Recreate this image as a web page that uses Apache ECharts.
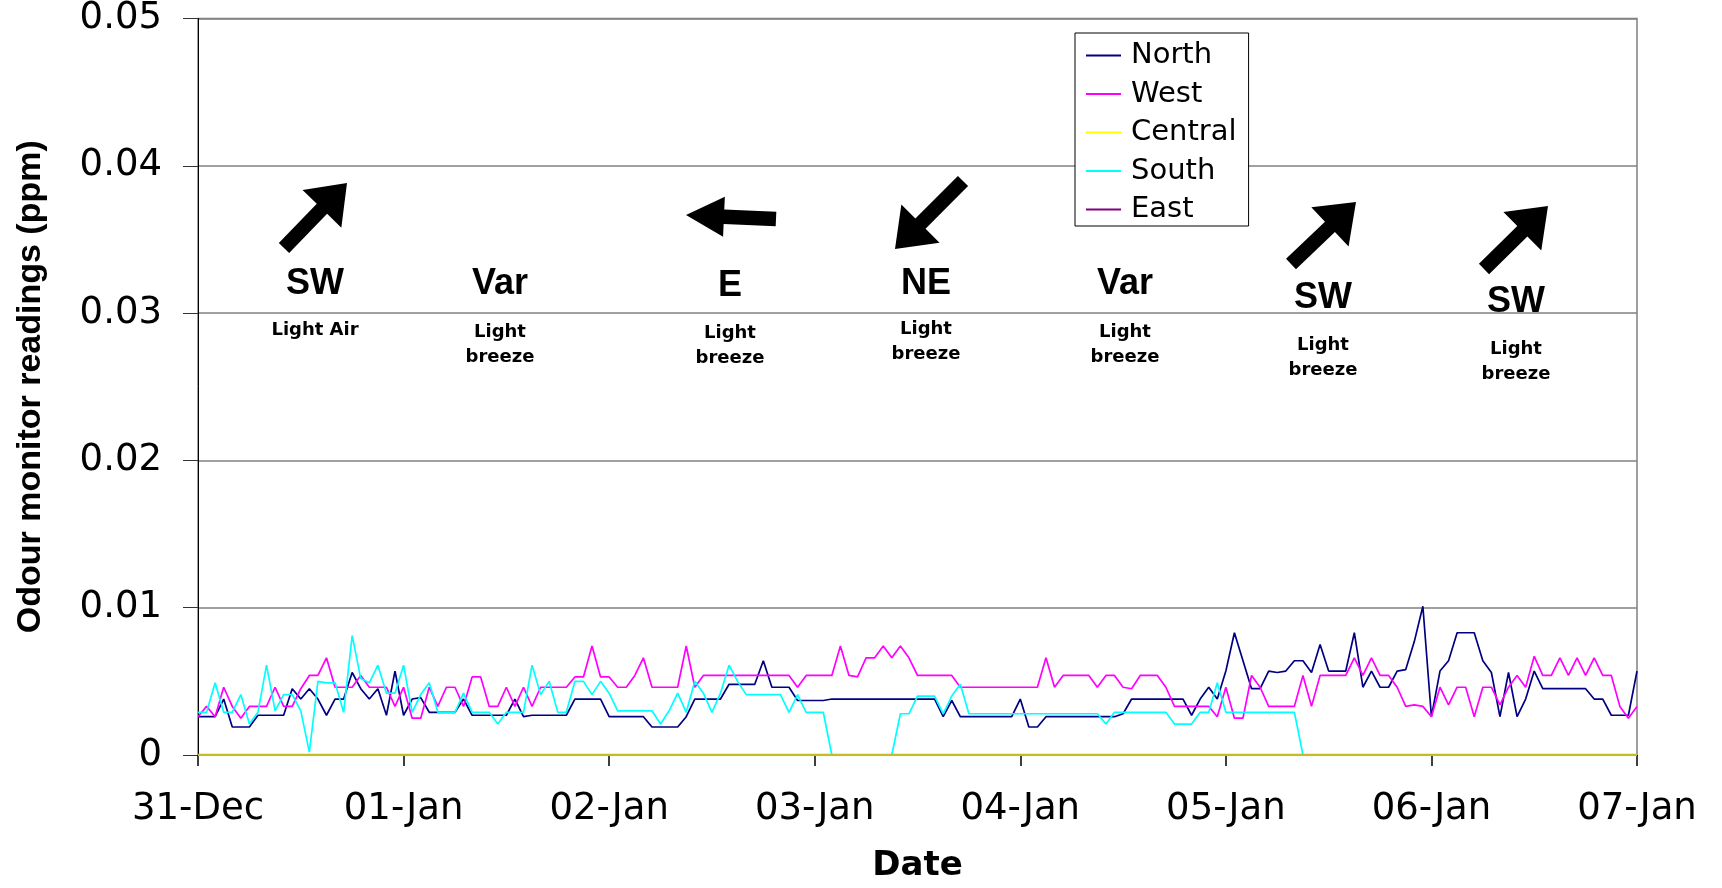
<!DOCTYPE html>
<html>
<head>
<meta charset="utf-8">
<script src="https://cdn.jsdelivr.net/npm/echarts@6/dist/echarts.min.js"></script>
<style>html,body{margin:0;padding:0;background:#fff}#c{width:1722px;height:888px}</style>
</head>
<body>
<div id="c"></div>
<script>
// ---- data (hourly readings, ppm) ----
const tickLabels = ['31-Dec','01-Jan','02-Jan','03-Jan','04-Jan','05-Jan','06-Jan','07-Jan'];
const yTickLabels = ['0','0.01','0.02','0.03','0.04','0.05'];
const seriesNames = ['North','West','Central','South','East'];
const north = [
0.0026,0.0026,0.0026,0.0038,0.0019,0.0019,0.0019,0.0027,0.0027,0.0027,0.0027,0.0045,
0.0038,0.0045,0.0038,0.0027,0.0038,0.0038,0.0056,0.0045,0.0038,0.0045,0.0027,0.0057,
0.0027,0.0038,0.0039,0.0029,0.0029,0.0029,0.0029,0.0038,0.0027,0.0027,0.0027,0.0027,
0.0027,0.0038,0.0026,0.0027,0.0027,0.0027,0.0027,0.0027,0.0038,0.0038,0.0038,0.0038,
0.0026,0.0026,0.0026,0.0026,0.0026,0.0019,0.0019,0.0019,0.0019,0.0026,0.0038,0.0038,
0.0038,0.0038,0.0048,0.0048,0.0048,0.0048,0.0064,0.0046,0.0046,0.0046,0.0037,0.0037,
0.0037,0.0037,0.0038,0.0038,0.0038,0.0038,0.0038,0.0038,0.0038,0.0038,0.0038,0.0038,
0.0038,0.0038,0.0038,0.0026,0.0037,0.0026,0.0026,0.0026,0.0026,0.0026,0.0026,0.0026,
0.0038,0.0019,0.0019,0.0026,0.0026,0.0026,0.0026,0.0026,0.0026,0.0026,0.0026,0.0026,
0.0028,0.0038,0.0038,0.0038,0.0038,0.0038,0.0038,0.0038,0.0027,0.0038,0.0046,0.0038,
0.0057,0.0083,0.0064,0.0045,0.0045,0.0057,0.0056,0.0057,0.0064,0.0064,0.0056,0.0075,
0.0057,0.0057,0.0057,0.0083,0.0046,0.0057,0.0046,0.0046,0.0057,0.0058,0.0077,0.0101,
0.0026,0.0057,0.0064,0.0083,0.0083,0.0083,0.0064,0.0056,0.0026,0.0056,0.0026,0.0038,
0.0057,0.0045,0.0045,0.0045,0.0045,0.0045,0.0045,0.0038,0.0038,0.0027,0.0027,0.0027,
0.0057];
const west = [
0.0026,0.0033,0.0026,0.0046,0.0033,0.0025,0.0033,0.0033,0.0033,0.0046,0.0033,0.0033,
0.0045,0.0054,0.0054,0.0066,0.0046,0.0046,0.0046,0.0054,0.0046,0.0046,0.0046,0.0033,
0.0046,0.0025,0.0025,0.0046,0.0033,0.0046,0.0046,0.0033,0.0053,0.0053,0.0033,0.0033,
0.0046,0.0033,0.0046,0.0033,0.0046,0.0046,0.0046,0.0046,0.0053,0.0053,0.0074,0.0053,
0.0053,0.0046,0.0046,0.0054,0.0066,0.0046,0.0046,0.0046,0.0046,0.0074,0.0046,0.0054,
0.0054,0.0054,0.0054,0.0054,0.0054,0.0054,0.0054,0.0054,0.0054,0.0054,0.0046,0.0054,
0.0054,0.0054,0.0054,0.0074,0.0054,0.0053,0.0066,0.0066,0.0074,0.0066,0.0074,0.0066,
0.0054,0.0054,0.0054,0.0054,0.0054,0.0046,0.0046,0.0046,0.0046,0.0046,0.0046,0.0046,
0.0046,0.0046,0.0046,0.0066,0.0046,0.0054,0.0054,0.0054,0.0054,0.0046,0.0054,0.0054,
0.0046,0.0045,0.0054,0.0054,0.0054,0.0046,0.0033,0.0033,0.0033,0.0033,0.0033,0.0026,
0.0046,0.0025,0.0025,0.0054,0.0046,0.0033,0.0033,0.0033,0.0033,0.0054,0.0033,0.0054,
0.0054,0.0054,0.0054,0.0066,0.0054,0.0066,0.0054,0.0054,0.0046,0.0033,0.0034,0.0033,
0.0026,0.0046,0.0034,0.0046,0.0046,0.0026,0.0046,0.0046,0.0034,0.0046,0.0054,0.0046,
0.0067,0.0054,0.0054,0.0066,0.0054,0.0066,0.0054,0.0066,0.0054,0.0054,0.0033,0.0025,
0.0033];
const central = [
0,0,0,0,0,0,0,0,0,0,0,0, 0,0,0,0,0,0,0,0,0,0,0,0,
0,0,0,0,0,0,0,0,0,0,0,0, 0,0,0,0,0,0,0,0,0,0,0,0,
0,0,0,0,0,0,0,0,0,0,0,0, 0,0,0,0,0,0,0,0,0,0,0,0,
0,0,0,0,0,0,0,0,0,0,0,0, 0,0,0,0,0,0,0,0,0,0,0,0,
0,0,0,0,0,0,0,0,0,0,0,0, 0,0,0,0,0,0,0,0,0,0,0,0,
0,0,0,0,0,0,0,0,0,0,0,0, 0,0,0,0,0,0,0,0,0,0,0,0,
0,0,0,0,0,0,0,0,0,0,0,0, 0,0,0,0,0,0,0,0,0,0,0,0,
0];
const south = [
0.0029,0.0029,0.0049,0.0029,0.0029,0.0041,0.0021,0.0029,0.0061,0.0030,0.0041,0.0041,
0.0030,0.0002,0.0050,0.0049,0.0049,0.0029,0.0081,0.0052,0.0049,0.0061,0.0042,0.0042,
0.0061,0.0029,0.0041,0.0049,0.0029,0.0029,0.0029,0.0042,0.0029,0.0029,0.0029,0.0021,
0.0029,0.0029,0.0029,0.0061,0.0041,0.0050,0.0029,0.0029,0.0050,0.0050,0.0041,0.0050,
0.0042,0.0030,0.0030,0.0030,0.0030,0.0030,0.0021,0.0030,0.0042,0.0029,0.0050,0.0042,
0.0029,0.0042,0.0061,0.0050,0.0041,0.0041,0.0041,0.0041,0.0041,0.0029,0.0041,0.0029,
0.0029,0.0029,0,0,0,0,0,0,0,0,0.0028,0.0028,
0.0040,0.0040,0.0040,0.0028,0.0040,0.0048,0.0028,0.0028,0.0028,0.0028,0.0028,0.0028,
0.0028,0.0028,0.0028,0.0028,0.0028,0.0028,0.0028,0.0028,0.0028,0.0028,0.0021,0.0029,
0.0029,0.0029,0.0029,0.0029,0.0029,0.0029,0.0021,0.0021,0.0021,0.0029,0.0029,0.0049,
0.0029,0.0029,0.0029,0.0029,0.0029,0.0029,0.0029,0.0029,0.0029,0,0,0,
0,0,0,0,0,0,0,0,0,0,0,0, 0,0,0,0,0,0,0,0,0,0,0,0,
0,0,0,0,0,0,0,0,0,0,0,0,
0];
const east = [];
const windDir = ['SW','Var','E','NE','Var','SW','SW'];
const windSpeed = ['Light Air','Light\nbreeze','Light\nbreeze','Light\nbreeze','Light\nbreeze','Light\nbreeze','Light\nbreeze'];

// ---- layout / style ----
const colors = ['#000080','#FF00FF','#FFFF00','#00FFFF','#800080'];
const lineColors = ['#000080','#FF00FF','#C4BC24','#00FFFF','#800080'];
const hoursPerSample = 1;
const labelX = [315, 500, 730, 926, 1125, 1323, 1516];
const dirY = [284, 284.5, 286.5, 284.5, 284.5, 298.5, 302.5];
const speedY = [330, 332.5, 333.5, 329.5, 332.5, 345.5, 349.5];
// arrows: [tailX, tailY, tipX, tipY, headHalfWidth, headLength]
const arrows = [
  [284, 248, 347, 183, 27, 36],
  [776, 219, 686, 215, 20, 38],
  [963, 181, 895, 249, 27, 36],
  [1291, 264, 1356, 202, 27, 36],
  [1484, 269, 1548, 206, 27, 36]
];

const allData = [north, west, central, south, east];
const toPairs = arr => arr.map((v, i) => [i * hoursPerSample, v]);

function arrowPoints(a) {
  const [tx, ty, px, py, H, HL] = a;
  const L = Math.hypot(px - tx, py - ty);
  const ux = (px - tx) / L, uy = (py - ty) / L;
  const nx = -uy, ny = ux, w = 7.2;
  const bx = px - ux * HL, by = py - uy * HL;
  return [
    [tx + nx * w, ty + ny * w], [bx + nx * w, by + ny * w], [bx + nx * H, by + ny * H],
    [px, py],
    [bx - nx * H, by - ny * H], [bx - nx * w, by - ny * w], [tx - nx * w, ty - ny * w]
  ];
}

const graphics = [];
arrows.forEach(a => graphics.push({type:'polygon', z:10, shape:{points: arrowPoints(a)}, style:{fill:'#000'}}));
windDir.forEach((d, i) => {
  graphics.push({type:'text', z:10, style:{text:d, x:labelX[i], y:dirY[i], fill:'#000',
    font:'bold 36px "Liberation Sans", Arial, sans-serif', align:'center', verticalAlign:'middle'}});
  graphics.push({type:'text', z:10, style:{text:windSpeed[i], x:labelX[i], y:speedY[i] - 12.5, fill:'#000',
    font:'bold 18px "DejaVu Sans", sans-serif', lineHeight:25, align:'center', verticalAlign:'top'}});
});

const chart = echarts.init(document.getElementById('c'));
chart.setOption({
  animation: false,
  backgroundColor: '#fff',
  grid: {left:198, right:85, top:18, bottom:126, show:true, borderColor:'#808080', borderWidth:1.5, backgroundColor:'transparent'},
  legend: {
    orient:'vertical', left:1075, top:33, padding:[8,12,2,11], itemGap:9.5,
    itemWidth:35, itemHeight:2, icon:'rect',
    backgroundColor:'#fff', borderColor:'#000', borderWidth:1, borderRadius:0,
    textStyle:{fontFamily:'"DejaVu Sans", sans-serif', fontSize:29, color:'#000', padding:[0,0,0,5]},
    data: seriesNames
  },
  xAxis: {
    type:'value', min:0, max:168, interval:24,
    name:'Date', nameLocation:'middle', nameGap:94,
    nameTextStyle:{fontFamily:'"DejaVu Sans", sans-serif', fontWeight:'bold', fontSize:34, color:'#000'},
    axisLine:{show:true, lineStyle:{color:'#000', width:1}},
    axisTick:{show:true, length:11, lineStyle:{color:'#000', width:1.5}},
    splitLine:{show:false},
    axisLabel:{show:true, margin:36, showMinLabel:true, showMaxLabel:true,
      fontFamily:'"DejaVu Sans", sans-serif', fontSize:37, color:'#000',
      formatter: v => tickLabels[Math.round(v / 24)]}
  },
  yAxis: {
    type:'value', min:0, max:0.05, interval:0.01,
    name:'Odour monitor readings (ppm)', nameLocation:'middle', nameGap:150, nameRotate:90,
    nameTextStyle:{fontFamily:'"Liberation Sans", Arial, sans-serif', fontWeight:'bold', fontSize:34, color:'#000'},
    axisLine:{show:true, lineStyle:{color:'#000', width:1}},
    axisTick:{show:true, length:15, lineStyle:{color:'#333', width:1}},
    splitLine:{show:true, lineStyle:{color:'#808080', width:1.5}},
    axisLabel:{margin:36, fontFamily:'"DejaVu Sans", sans-serif', fontSize:37, color:'#000',
      formatter: v => yTickLabels[Math.round(v / 0.01)]}
  },
  series: seriesNames.map((n, k) => ({
    name:n, type:'line', data: toPairs(allData[k]),
    showSymbol:false, symbol:'none', z: n === 'Central' ? 4 : 2,
    itemStyle:{color: colors[k]},
    lineStyle:{color: lineColors[k], width: n === 'Central' ? 2.5 : 1.7},
    emphasis:{disabled:true}
  })),
  graphic: graphics
});
</script>
</body>
</html>
